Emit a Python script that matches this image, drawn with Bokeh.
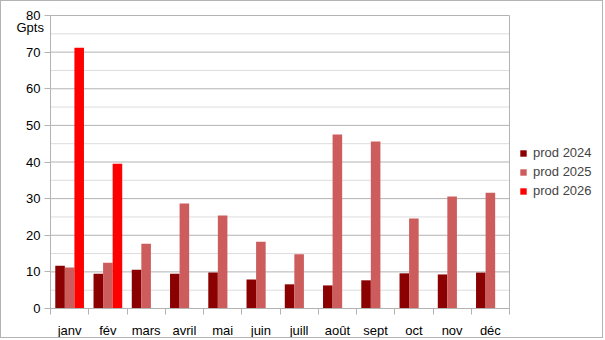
from bokeh.plotting import figure
from bokeh.models import ColumnDataSource, FixedTicker, Legend, LegendItem, Label, Range1d
from bokeh.embed import file_html
from bokeh.resources import INLINE

months = ["janv", "fév", "mars", "avril", "mai", "juin", "juill", "août", "sept", "oct", "nov", "déc"]
prod_2024 = [11.7, 9.5, 10.6, 9.5, 9.8, 7.9, 6.6, 6.3, 7.7, 9.6, 9.3, 9.8]
prod_2025 = [11.2, 12.5, 17.7, 28.7, 25.4, 18.2, 14.8, 47.5, 45.6, 24.6, 30.6, 31.6]
prod_2026 = [71.2, 39.5, 0, 0, 0, 0, 0, 0, 0, 0, 0, 0]
series_names = ["prod 2024", "prod 2025", "prod 2026"]
series_colors = ["#8b0000", "#cd5c5c", "#ff0000"]
y_ticks = [0, 10, 20, 30, 40, 50, 60, 70, 80]
y_minor = [5, 15, 25, 35, 45, 55, 65, 75]
y_title = "Gpts"

FONT = "Liberation Sans"
n = len(months)
y_max = 80
# frame covers the whole canvas; the plotting area spans 459 x 293 px, 49 px in and 14 px down
ppu_x = 459 / n
ppu_y = 293 / y_max
x_start = -49 / ppu_x
x_end = (598 - 49) / ppu_x
y_start = -31 / ppu_y
y_end = y_max + 14 / ppu_y

p = figure(width=603, height=338, output_backend="svg", toolbar_location=None,
           x_range=Range1d(x_start, x_end), y_range=Range1d(y_start, y_end),
           min_border_left=0, min_border_right=5, min_border_top=0, min_border_bottom=0)
p.styles = {"border": "1px solid #b3b3b3"}
p.background_fill_color = "white"
p.border_fill_color = "white"
p.outline_line_color = None

# grid lines (limited to the plotting area)
p.segment(x0=[0] * len(y_minor), x1=[n] * len(y_minor), y0=y_minor, y1=y_minor,
          line_color="#dddddd", line_width=1)
p.segment(x0=[0] * len(y_ticks), x1=[n] * len(y_ticks), y0=y_ticks, y1=y_ticks,
          line_color="#b3b3b3", line_width=1)
p.segment(x0=[n], x1=[n], y0=[0], y1=[y_max], line_color="#b3b3b3", line_width=1)

centers = [i + 0.5 for i in range(n)]
renderers = []
for k, (vals, col) in enumerate(zip([prod_2024, prod_2025, prod_2026], series_colors)):
    src = ColumnDataSource(dict(x=[c + (k - 1) * 0.25 for c in centers], top=vals))
    r = p.vbar(x="x", top="top", width=0.25, bottom=0, source=src, fill_color=col, line_color=None)
    renderers.append(r)

# y axis, pinned at x = 0
p.yaxis.fixed_location = 0
p.yaxis.bounds = (0, y_max)
p.yaxis.ticker = FixedTicker(ticks=y_ticks)
p.yaxis.axis_line_color = "#b3b3b3"
p.yaxis.major_tick_line_color = "#b3b3b3"
p.yaxis.major_tick_out = 6
p.yaxis.major_tick_in = 0
p.yaxis.minor_tick_line_color = None
p.yaxis.major_label_text_font = FONT
p.yaxis.major_label_text_font_size = "13px"
p.yaxis.major_label_text_color = "black"
p.yaxis.major_label_standoff = 4

# x axis, pinned at y = 0
p.xaxis.fixed_location = 0
p.xaxis.bounds = (0, n)
p.xaxis.ticker = FixedTicker(ticks=centers, minor_ticks=list(range(n + 1)))
p.xaxis.major_label_overrides = {c: m for c, m in zip(centers, months)}
p.xaxis.axis_line_color = "#b3b3b3"
p.xaxis.major_tick_line_color = None
p.xaxis.minor_tick_line_color = "#b3b3b3"
p.xaxis.minor_tick_out = 6
p.xaxis.minor_tick_in = 0
p.xaxis.major_label_text_font = FONT
p.xaxis.major_label_text_font_size = "13px"
p.xaxis.major_label_text_color = "black"
p.xaxis.major_label_standoff = 8

p.xgrid.grid_line_color = None
p.ygrid.grid_line_color = None

p.add_layout(Label(x=15, y=305, x_units="screen", y_units="screen", text=y_title,
                   text_font=FONT, text_font_size="13px", text_color="black"))

legend = Legend(items=[LegendItem(label=s, renderers=[r]) for s, r in zip(series_names, renderers)],
                location=(518, 141), glyph_width=8, glyph_height=8, label_height=14,
                label_standoff=6, spacing=4, padding=0, margin=0,
                label_text_font=FONT, label_text_font_size="13px",
                border_line_color=None, background_fill_alpha=0)
p.add_layout(legend, "center")

open("out.html", "w").write(file_html(p, INLINE))
